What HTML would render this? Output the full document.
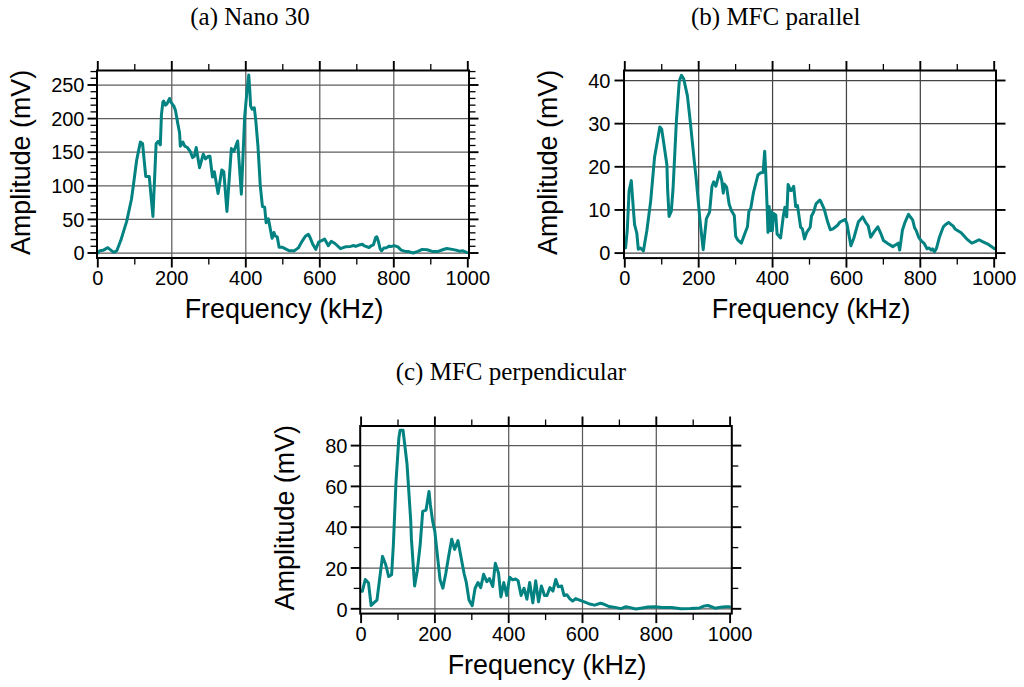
<!DOCTYPE html>
<html><head><meta charset="utf-8"><title>Frequency spectra</title>
<style>
html,body{margin:0;padding:0;background:#fff;}
body{width:1024px;height:687px;overflow:hidden;}
svg{display:block;}
.gr{stroke-width:1.25;fill:none;}
.cv{stroke:#038282;stroke-width:3;fill:none;stroke-linejoin:round;stroke-linecap:round;}
.fr{stroke:#000;stroke-width:2;fill:none;}
.tk{stroke:#000;stroke-width:1.9;}
.tm{stroke:#000;stroke-width:1.3;}
.tl{font-family:"Liberation Sans",sans-serif;font-size:20px;fill:#000;}
.al{font-family:"Liberation Sans",sans-serif;font-size:26.9px;fill:#000;}
.tt{font-family:"Liberation Serif",serif;font-size:25px;fill:#000;}
</style></head>
<body>
<svg width="1024" height="687" viewBox="0 0 1024 687">
<rect width="1024" height="687" fill="#fff"/>
<line x1="171.8" y1="70.5" x2="171.8" y2="258" class="gr" stroke="#5e5e5e"/>
<line x1="245.8" y1="70.5" x2="245.8" y2="258" class="gr" stroke="#5e5e5e"/>
<line x1="319.8" y1="70.5" x2="319.8" y2="258" class="gr" stroke="#5e5e5e"/>
<line x1="393.8" y1="70.5" x2="393.8" y2="258" class="gr" stroke="#5e5e5e"/>
<line x1="97" y1="253" x2="469" y2="253" class="gr" stroke="#5e5e5e"/>
<line x1="97" y1="219.4" x2="469" y2="219.4" class="gr" stroke="#5e5e5e"/>
<line x1="97" y1="185.8" x2="469" y2="185.8" class="gr" stroke="#5e5e5e"/>
<line x1="97" y1="152.2" x2="469" y2="152.2" class="gr" stroke="#5e5e5e"/>
<line x1="97" y1="118.6" x2="469" y2="118.6" class="gr" stroke="#5e5e5e"/>
<line x1="97" y1="85" x2="469" y2="85" class="gr" stroke="#5e5e5e"/>
<polyline points="97.8,253 100.02,250.65 102.98,250.31 107.79,247.69 111.12,250.31 113.71,252.33 116.67,250.98 120.74,240.57 126.66,221.42 131.47,199.24 133.32,185.8 136.65,160.26 140.35,142.12 142.57,143.46 145.72,176.39 149.23,176.39 152.93,216.38 156.11,143.8 158.11,141.45 160.33,144.81 161.44,114.57 162.92,101.8 163.66,101.13 165.51,105.16 166.99,103.82 169.58,98.44 171.06,102.47 174.02,106.5 175.5,110.54 177.72,123.3 179.57,132.71 180.31,146.15 182.9,142.12 184.75,146.15 187.34,147.5 190.3,151.53 192.52,157.58 194.37,156.23 196.22,147.5 199.55,167.66 203.25,154.22 205.47,158.92 208.43,156.23 209.91,156.23 212.5,177.06 214.35,171.69 218.05,193.53 221.75,170.01 223.78,171.69 226.93,211.47 231.37,148.57 233.77,151.53 237.66,140.98 241.36,194.2 244.69,116.58 246.91,91.72 248.76,74.92 249.87,91.72 250.61,105.83 252.09,109.19 254.31,107.85 255.79,120.62 258.01,146.82 260.23,185.13 262.45,206.63 264.67,207.3 266.15,222.76 268.37,218.73 272.07,238.22 273.92,232.5 275.4,236.2 277.25,236.87 279.1,247.22 282.06,247.22 285.02,248.63 289.46,250.78 292.42,250.78 293.9,250.98 298.34,247.89 302.04,241.31 305.37,236.2 308.33,234.39 309.81,236.87 312.77,244.26 315.73,249.37 318.69,241.98 321.65,240.57 324.61,239.09 328.31,245.68 331.27,241.31 334.97,243.52 340.52,248.7 345.33,246.82 350.51,246.41 353.84,245.54 355.69,246.41 359.02,245.07 362.35,244.2 363.83,245.61 369.01,247.49 371.6,245.54 373.45,244.8 375.67,237.54 376.78,236.74 378.26,240.9 380.11,248.77 381.59,250.78 383.81,248.09 386.4,247.76 389.36,246.08 390.84,246.62 394.17,245.68 397.87,246.82 401.2,250.11 404.53,251.19 407.86,251.39 413.04,253 417.85,251.39 422.29,249.37 427.1,249.77 432.28,251.39 438.2,251.39 442.64,249.77 446.71,248.5 452.26,249.37 455.96,250.11 459.29,251.19 462.99,250.78 467.06,252.53" class="cv"/>
<rect x="97" y="70.5" width="372" height="187.5" class="fr"/>
<line x1="97.8" y1="70.5" x2="97.8" y2="61" class="tk"/>
<line x1="97.8" y1="258" x2="97.8" y2="267.5" class="tk"/>
<line x1="134.8" y1="70.5" x2="134.8" y2="64" class="tm"/>
<line x1="134.8" y1="258" x2="134.8" y2="264.5" class="tm"/>
<line x1="171.8" y1="70.5" x2="171.8" y2="61" class="tk"/>
<line x1="171.8" y1="258" x2="171.8" y2="267.5" class="tk"/>
<line x1="208.8" y1="70.5" x2="208.8" y2="64" class="tm"/>
<line x1="208.8" y1="258" x2="208.8" y2="264.5" class="tm"/>
<line x1="245.8" y1="70.5" x2="245.8" y2="61" class="tk"/>
<line x1="245.8" y1="258" x2="245.8" y2="267.5" class="tk"/>
<line x1="282.8" y1="70.5" x2="282.8" y2="64" class="tm"/>
<line x1="282.8" y1="258" x2="282.8" y2="264.5" class="tm"/>
<line x1="319.8" y1="70.5" x2="319.8" y2="61" class="tk"/>
<line x1="319.8" y1="258" x2="319.8" y2="267.5" class="tk"/>
<line x1="356.8" y1="70.5" x2="356.8" y2="64" class="tm"/>
<line x1="356.8" y1="258" x2="356.8" y2="264.5" class="tm"/>
<line x1="393.8" y1="70.5" x2="393.8" y2="61" class="tk"/>
<line x1="393.8" y1="258" x2="393.8" y2="267.5" class="tk"/>
<line x1="430.8" y1="70.5" x2="430.8" y2="64" class="tm"/>
<line x1="430.8" y1="258" x2="430.8" y2="264.5" class="tm"/>
<line x1="467.8" y1="70.5" x2="467.8" y2="61" class="tk"/>
<line x1="467.8" y1="258" x2="467.8" y2="267.5" class="tk"/>
<line x1="97" y1="253" x2="87.5" y2="253" class="tk"/>
<line x1="469" y1="253" x2="478.5" y2="253" class="tk"/>
<line x1="97" y1="219.4" x2="87.5" y2="219.4" class="tk"/>
<line x1="469" y1="219.4" x2="478.5" y2="219.4" class="tk"/>
<line x1="97" y1="185.8" x2="87.5" y2="185.8" class="tk"/>
<line x1="469" y1="185.8" x2="478.5" y2="185.8" class="tk"/>
<line x1="97" y1="152.2" x2="87.5" y2="152.2" class="tk"/>
<line x1="469" y1="152.2" x2="478.5" y2="152.2" class="tk"/>
<line x1="97" y1="118.6" x2="87.5" y2="118.6" class="tk"/>
<line x1="469" y1="118.6" x2="478.5" y2="118.6" class="tk"/>
<line x1="97" y1="85" x2="87.5" y2="85" class="tk"/>
<line x1="469" y1="85" x2="478.5" y2="85" class="tk"/>
<line x1="97" y1="246.28" x2="90.5" y2="246.28" class="tm"/>
<line x1="469" y1="246.28" x2="475.5" y2="246.28" class="tm"/>
<line x1="97" y1="239.56" x2="90.5" y2="239.56" class="tm"/>
<line x1="469" y1="239.56" x2="475.5" y2="239.56" class="tm"/>
<line x1="97" y1="232.84" x2="90.5" y2="232.84" class="tm"/>
<line x1="469" y1="232.84" x2="475.5" y2="232.84" class="tm"/>
<line x1="97" y1="226.12" x2="90.5" y2="226.12" class="tm"/>
<line x1="469" y1="226.12" x2="475.5" y2="226.12" class="tm"/>
<line x1="97" y1="212.68" x2="90.5" y2="212.68" class="tm"/>
<line x1="469" y1="212.68" x2="475.5" y2="212.68" class="tm"/>
<line x1="97" y1="205.96" x2="90.5" y2="205.96" class="tm"/>
<line x1="469" y1="205.96" x2="475.5" y2="205.96" class="tm"/>
<line x1="97" y1="199.24" x2="90.5" y2="199.24" class="tm"/>
<line x1="469" y1="199.24" x2="475.5" y2="199.24" class="tm"/>
<line x1="97" y1="192.52" x2="90.5" y2="192.52" class="tm"/>
<line x1="469" y1="192.52" x2="475.5" y2="192.52" class="tm"/>
<line x1="97" y1="179.08" x2="90.5" y2="179.08" class="tm"/>
<line x1="469" y1="179.08" x2="475.5" y2="179.08" class="tm"/>
<line x1="97" y1="172.36" x2="90.5" y2="172.36" class="tm"/>
<line x1="469" y1="172.36" x2="475.5" y2="172.36" class="tm"/>
<line x1="97" y1="165.64" x2="90.5" y2="165.64" class="tm"/>
<line x1="469" y1="165.64" x2="475.5" y2="165.64" class="tm"/>
<line x1="97" y1="158.92" x2="90.5" y2="158.92" class="tm"/>
<line x1="469" y1="158.92" x2="475.5" y2="158.92" class="tm"/>
<line x1="97" y1="145.48" x2="90.5" y2="145.48" class="tm"/>
<line x1="469" y1="145.48" x2="475.5" y2="145.48" class="tm"/>
<line x1="97" y1="138.76" x2="90.5" y2="138.76" class="tm"/>
<line x1="469" y1="138.76" x2="475.5" y2="138.76" class="tm"/>
<line x1="97" y1="132.04" x2="90.5" y2="132.04" class="tm"/>
<line x1="469" y1="132.04" x2="475.5" y2="132.04" class="tm"/>
<line x1="97" y1="125.32" x2="90.5" y2="125.32" class="tm"/>
<line x1="469" y1="125.32" x2="475.5" y2="125.32" class="tm"/>
<line x1="97" y1="111.88" x2="90.5" y2="111.88" class="tm"/>
<line x1="469" y1="111.88" x2="475.5" y2="111.88" class="tm"/>
<line x1="97" y1="105.16" x2="90.5" y2="105.16" class="tm"/>
<line x1="469" y1="105.16" x2="475.5" y2="105.16" class="tm"/>
<line x1="97" y1="98.44" x2="90.5" y2="98.44" class="tm"/>
<line x1="469" y1="98.44" x2="475.5" y2="98.44" class="tm"/>
<line x1="97" y1="91.72" x2="90.5" y2="91.72" class="tm"/>
<line x1="469" y1="91.72" x2="475.5" y2="91.72" class="tm"/>
<line x1="97" y1="78.28" x2="90.5" y2="78.28" class="tm"/>
<line x1="469" y1="78.28" x2="475.5" y2="78.28" class="tm"/>
<line x1="97" y1="71.56" x2="90.5" y2="71.56" class="tm"/>
<line x1="469" y1="71.56" x2="475.5" y2="71.56" class="tm"/>
<text x="97.8" y="285.3" class="tl" text-anchor="middle">0</text>
<text x="171.8" y="285.3" class="tl" text-anchor="middle">200</text>
<text x="245.8" y="285.3" class="tl" text-anchor="middle">400</text>
<text x="319.8" y="285.3" class="tl" text-anchor="middle">600</text>
<text x="393.8" y="285.3" class="tl" text-anchor="middle">800</text>
<text x="467.8" y="285.3" class="tl" text-anchor="middle">1000</text>
<text x="84.5" y="260.2" class="tl" text-anchor="end">0</text>
<text x="84.5" y="226.6" class="tl" text-anchor="end">50</text>
<text x="84.5" y="193" class="tl" text-anchor="end">100</text>
<text x="84.5" y="159.4" class="tl" text-anchor="end">150</text>
<text x="84.5" y="125.8" class="tl" text-anchor="end">200</text>
<text x="84.5" y="92.2" class="tl" text-anchor="end">250</text>
<text x="284" y="317.6" class="al" text-anchor="middle">Frequency (kHz)</text>
<text transform="translate(30.1,162.4) rotate(-90)" class="al" text-anchor="middle">Amplitude (mV)</text>
<text x="250" y="25.3" class="tt" text-anchor="middle">(a) Nano 30</text>
<line x1="698.68" y1="70.5" x2="698.68" y2="258.1" class="gr" stroke="#444"/>
<line x1="772.56" y1="70.5" x2="772.56" y2="258.1" class="gr" stroke="#444"/>
<line x1="846.44" y1="70.5" x2="846.44" y2="258.1" class="gr" stroke="#444"/>
<line x1="920.32" y1="70.5" x2="920.32" y2="258.1" class="gr" stroke="#444"/>
<line x1="624" y1="253.1" x2="996" y2="253.1" class="gr" stroke="#444"/>
<line x1="624" y1="209.95" x2="996" y2="209.95" class="gr" stroke="#444"/>
<line x1="624" y1="166.8" x2="996" y2="166.8" class="gr" stroke="#444"/>
<line x1="624" y1="123.65" x2="996" y2="123.65" class="gr" stroke="#444"/>
<line x1="624" y1="80.5" x2="996" y2="80.5" class="gr" stroke="#444"/>
<polyline points="625.58,247.92 627.27,230.23 629.09,190.96 631.3,180.61 633.19,206.93 634.59,224.62 636.81,233.25 638.28,249.22 640.5,247.92 643.42,250.94 646.89,230.23 650.66,201.32 654.54,157.31 657.38,141.34 659.82,127.1 661.7,129.26 663.88,143.93 666.91,165.07 667.61,189.24 669.09,216.42 671.31,211.24 673.01,189.24 674.48,159.9 676.41,120.63 679.29,80.93 681.5,75.32 683.68,78.77 687.38,95.6 690.29,121.92 694.69,165.07 696.21,178.88 699.83,218.58 703.19,249.65 706.4,218.58 707.91,215.56 709.58,212.11 711.98,186.22 713.71,181.9 715.89,186.22 719.59,171.98 721.8,180.61 723.28,193.12 724.32,184.06 726.61,187.08 729.12,203.91 731.3,210.38 734.29,215.56 735.69,236.27 737.91,240.16 741.31,243.18 744.49,234.55 747.44,226.78 748.92,211.24 750.8,208.22 753.5,192.26 757.89,175 760.52,172.84 763.1,172.41 764.69,151.27 765.69,171.55 767.09,206.5 767.98,232.39 769.2,206.5 770.38,230.66 771.49,211.68 772.38,230.66 773.59,213.4 775.81,215.13 777.07,234.11 780.58,238 783.2,216.85 784.9,207.36 786.71,216.85 788.11,184.49 790.51,190.53 791.55,190.53 793.69,186.22 795.68,206.5 797.49,205.63 800.63,227.21 802.41,228.94 804.51,238.86 806.73,232.39 810.2,227.21 811.49,215.99 813.75,211.68 816,203.91 819.81,200.03 820.8,201.32 824.2,209.09 827.71,222.03 830.3,229.8 832.99,228.94 837.32,225.48 839.98,222.03 845.22,219.44 846.92,223.76 850.91,245.76 853.86,238 858.3,222.03 862.69,216.85 865.46,222.03 868.2,225.92 870.67,237.13 873.7,232.39 877.8,226.78 880.54,232.82 883.53,240.59 887.33,243.18 892.8,246.63 896.2,244.47 898.3,243.18 899.71,250.08 902.4,230.23 905.1,222.03 908.5,214.26 910.6,217.29 912.64,219.87 914.71,228.07 916.07,230.23 918.81,237.57 921.5,241.02 924.27,243.61 927.01,248.78 929.04,247.92 931.11,250.08 932.51,248.78 934.5,251.81 936.61,247.92 939.31,237.57 942,230.23 943.41,226.78 946.1,224.19 948.58,222.46 950.68,224.19 953.01,225.92 955.04,228.94 961.18,232.82 966.61,238.86 971.78,243.18 974.81,241.88 978.98,239.72 983.01,241.88 988.47,244.47 994.57,248.78" class="cv"/>
<rect x="624" y="70.5" width="372" height="187.6" class="fr"/>
<line x1="624.8" y1="70.5" x2="624.8" y2="61" class="tk"/>
<line x1="624.8" y1="258.1" x2="624.8" y2="267.6" class="tk"/>
<line x1="661.74" y1="70.5" x2="661.74" y2="64" class="tm"/>
<line x1="661.74" y1="258.1" x2="661.74" y2="264.6" class="tm"/>
<line x1="698.68" y1="70.5" x2="698.68" y2="61" class="tk"/>
<line x1="698.68" y1="258.1" x2="698.68" y2="267.6" class="tk"/>
<line x1="735.62" y1="70.5" x2="735.62" y2="64" class="tm"/>
<line x1="735.62" y1="258.1" x2="735.62" y2="264.6" class="tm"/>
<line x1="772.56" y1="70.5" x2="772.56" y2="61" class="tk"/>
<line x1="772.56" y1="258.1" x2="772.56" y2="267.6" class="tk"/>
<line x1="809.5" y1="70.5" x2="809.5" y2="64" class="tm"/>
<line x1="809.5" y1="258.1" x2="809.5" y2="264.6" class="tm"/>
<line x1="846.44" y1="70.5" x2="846.44" y2="61" class="tk"/>
<line x1="846.44" y1="258.1" x2="846.44" y2="267.6" class="tk"/>
<line x1="883.38" y1="70.5" x2="883.38" y2="64" class="tm"/>
<line x1="883.38" y1="258.1" x2="883.38" y2="264.6" class="tm"/>
<line x1="920.32" y1="70.5" x2="920.32" y2="61" class="tk"/>
<line x1="920.32" y1="258.1" x2="920.32" y2="267.6" class="tk"/>
<line x1="957.26" y1="70.5" x2="957.26" y2="64" class="tm"/>
<line x1="957.26" y1="258.1" x2="957.26" y2="264.6" class="tm"/>
<line x1="994.2" y1="70.5" x2="994.2" y2="61" class="tk"/>
<line x1="994.2" y1="258.1" x2="994.2" y2="267.6" class="tk"/>
<line x1="624" y1="253.1" x2="614.5" y2="253.1" class="tk"/>
<line x1="996" y1="253.1" x2="1005.5" y2="253.1" class="tk"/>
<line x1="624" y1="209.95" x2="614.5" y2="209.95" class="tk"/>
<line x1="996" y1="209.95" x2="1005.5" y2="209.95" class="tk"/>
<line x1="624" y1="166.8" x2="614.5" y2="166.8" class="tk"/>
<line x1="996" y1="166.8" x2="1005.5" y2="166.8" class="tk"/>
<line x1="624" y1="123.65" x2="614.5" y2="123.65" class="tk"/>
<line x1="996" y1="123.65" x2="1005.5" y2="123.65" class="tk"/>
<line x1="624" y1="80.5" x2="614.5" y2="80.5" class="tk"/>
<line x1="996" y1="80.5" x2="1005.5" y2="80.5" class="tk"/>
<text x="624.8" y="285.4" class="tl" text-anchor="middle">0</text>
<text x="698.68" y="285.4" class="tl" text-anchor="middle">200</text>
<text x="772.56" y="285.4" class="tl" text-anchor="middle">400</text>
<text x="846.44" y="285.4" class="tl" text-anchor="middle">600</text>
<text x="920.32" y="285.4" class="tl" text-anchor="middle">800</text>
<text x="994.2" y="285.4" class="tl" text-anchor="middle">1000</text>
<text x="610.4" y="260.3" class="tl" text-anchor="end">0</text>
<text x="610.4" y="217.15" class="tl" text-anchor="end">10</text>
<text x="610.4" y="174" class="tl" text-anchor="end">20</text>
<text x="610.4" y="130.85" class="tl" text-anchor="end">30</text>
<text x="610.4" y="87.7" class="tl" text-anchor="end">40</text>
<text x="811" y="317.6" class="al" text-anchor="middle">Frequency (kHz)</text>
<text transform="translate(557,162.4) rotate(-90)" class="al" text-anchor="middle">Amplitude (mV)</text>
<text x="775.7" y="25.4" class="tt" text-anchor="middle">(b) MFC parallel</text>
<line x1="434.9" y1="426" x2="434.9" y2="613.6" class="gr" stroke="#5a5a5a"/>
<line x1="508.7" y1="426" x2="508.7" y2="613.6" class="gr" stroke="#5a5a5a"/>
<line x1="582.5" y1="426" x2="582.5" y2="613.6" class="gr" stroke="#5a5a5a"/>
<line x1="656.3" y1="426" x2="656.3" y2="613.6" class="gr" stroke="#5a5a5a"/>
<line x1="360.2" y1="608.8" x2="731.8" y2="608.8" class="gr" stroke="#5a5a5a"/>
<line x1="360.2" y1="568" x2="731.8" y2="568" class="gr" stroke="#5a5a5a"/>
<line x1="360.2" y1="527.2" x2="731.8" y2="527.2" class="gr" stroke="#5a5a5a"/>
<line x1="360.2" y1="486.4" x2="731.8" y2="486.4" class="gr" stroke="#5a5a5a"/>
<line x1="360.2" y1="445.6" x2="731.8" y2="445.6" class="gr" stroke="#5a5a5a"/>
<polyline points="361.1,591.26 362.32,591.26 365.31,579.42 368.52,583.1 371.14,605.54 374.02,602.68 376.97,600.03 379.92,576.57 382.5,556.37 385.75,564.74 388.7,576.57 391.62,574.73 393.39,544.34 396.01,481.5 398.89,437.64 400.1,430.3 403.02,430.3 404.79,444.99 407,463.96 410.69,520.06 411.39,538.42 414.61,585.95 417.3,570.65 420.21,544.34 422.69,511.49 426.04,510.06 429,491.5 430.4,504.96 432.61,520.88 434.79,531.08 437,551.68 439.99,579.42 442.91,588.2 445.79,573.51 448.7,555.96 451.69,539.24 454.6,549.44 458,540.66 460.51,554.54 464.09,573.51 466.3,582.48 469,600.03 472.21,605.74 475.08,588.2 478,582.48 480.69,587.58 483.61,574.32 486.82,581.67 489.51,578.61 492.72,586.56 495.31,563.31 498.52,572.9 500.91,596.97 503.79,582.48 506.71,595.54 509.62,577.18 512.61,579.83 515.49,579.02 518.11,580.85 521.1,595.54 524.01,588.2 526.89,599.21 529.7,582.48 532.8,602.88 535.71,580.85 538.52,601.86 541.39,585.95 544.49,595.54 547,595.54 549.92,587.58 552.91,591.05 555.78,579.42 558.29,586.77 561.61,585.95 564.09,595.54 566.82,594.72 569.7,598.6 572.61,601.05 575.6,598.6 582.94,601.46 588.7,603.7 594.6,605.13 600.51,603.29 604.12,604.31 609.29,606.56 615.12,607.37 620.99,608.6 625.89,606.76 629.36,607.37 635.78,609 642.31,607.98 648.11,606.96 655.19,606.76 662.2,607.58 671.61,607.58 675.49,607.98 680.91,608.8 690.32,608.6 699.69,607.98 704.42,605.94 707.92,605.54 711.39,606.76 714.9,608.19 720.8,607.17 725.49,606.76 729.58,606.76" class="cv"/>
<rect x="360.2" y="426" width="371.6" height="187.6" class="fr"/>
<line x1="361.1" y1="426" x2="361.1" y2="416.5" class="tk"/>
<line x1="361.1" y1="613.6" x2="361.1" y2="623.1" class="tk"/>
<line x1="398" y1="426" x2="398" y2="419.5" class="tm"/>
<line x1="398" y1="613.6" x2="398" y2="620.1" class="tm"/>
<line x1="434.9" y1="426" x2="434.9" y2="416.5" class="tk"/>
<line x1="434.9" y1="613.6" x2="434.9" y2="623.1" class="tk"/>
<line x1="471.8" y1="426" x2="471.8" y2="419.5" class="tm"/>
<line x1="471.8" y1="613.6" x2="471.8" y2="620.1" class="tm"/>
<line x1="508.7" y1="426" x2="508.7" y2="416.5" class="tk"/>
<line x1="508.7" y1="613.6" x2="508.7" y2="623.1" class="tk"/>
<line x1="545.6" y1="426" x2="545.6" y2="419.5" class="tm"/>
<line x1="545.6" y1="613.6" x2="545.6" y2="620.1" class="tm"/>
<line x1="582.5" y1="426" x2="582.5" y2="416.5" class="tk"/>
<line x1="582.5" y1="613.6" x2="582.5" y2="623.1" class="tk"/>
<line x1="619.4" y1="426" x2="619.4" y2="419.5" class="tm"/>
<line x1="619.4" y1="613.6" x2="619.4" y2="620.1" class="tm"/>
<line x1="656.3" y1="426" x2="656.3" y2="416.5" class="tk"/>
<line x1="656.3" y1="613.6" x2="656.3" y2="623.1" class="tk"/>
<line x1="693.2" y1="426" x2="693.2" y2="419.5" class="tm"/>
<line x1="693.2" y1="613.6" x2="693.2" y2="620.1" class="tm"/>
<line x1="730.1" y1="426" x2="730.1" y2="416.5" class="tk"/>
<line x1="730.1" y1="613.6" x2="730.1" y2="623.1" class="tk"/>
<line x1="360.2" y1="608.8" x2="350.7" y2="608.8" class="tk"/>
<line x1="731.8" y1="608.8" x2="741.3" y2="608.8" class="tk"/>
<line x1="360.2" y1="568" x2="350.7" y2="568" class="tk"/>
<line x1="731.8" y1="568" x2="741.3" y2="568" class="tk"/>
<line x1="360.2" y1="527.2" x2="350.7" y2="527.2" class="tk"/>
<line x1="731.8" y1="527.2" x2="741.3" y2="527.2" class="tk"/>
<line x1="360.2" y1="486.4" x2="350.7" y2="486.4" class="tk"/>
<line x1="731.8" y1="486.4" x2="741.3" y2="486.4" class="tk"/>
<line x1="360.2" y1="445.6" x2="350.7" y2="445.6" class="tk"/>
<line x1="731.8" y1="445.6" x2="741.3" y2="445.6" class="tk"/>
<line x1="360.2" y1="588.4" x2="353.7" y2="588.4" class="tm"/>
<line x1="731.8" y1="588.4" x2="738.3" y2="588.4" class="tm"/>
<line x1="360.2" y1="547.6" x2="353.7" y2="547.6" class="tm"/>
<line x1="731.8" y1="547.6" x2="738.3" y2="547.6" class="tm"/>
<line x1="360.2" y1="506.8" x2="353.7" y2="506.8" class="tm"/>
<line x1="731.8" y1="506.8" x2="738.3" y2="506.8" class="tm"/>
<line x1="360.2" y1="466" x2="353.7" y2="466" class="tm"/>
<line x1="731.8" y1="466" x2="738.3" y2="466" class="tm"/>
<text x="361.1" y="640.9" class="tl" text-anchor="middle">0</text>
<text x="434.9" y="640.9" class="tl" text-anchor="middle">200</text>
<text x="508.7" y="640.9" class="tl" text-anchor="middle">400</text>
<text x="582.5" y="640.9" class="tl" text-anchor="middle">600</text>
<text x="656.3" y="640.9" class="tl" text-anchor="middle">800</text>
<text x="730.1" y="640.9" class="tl" text-anchor="middle">1000</text>
<text x="347.5" y="616.5" class="tl" text-anchor="end">0</text>
<text x="347.5" y="575.7" class="tl" text-anchor="end">20</text>
<text x="347.5" y="534.9" class="tl" text-anchor="end">40</text>
<text x="347.5" y="494.1" class="tl" text-anchor="end">60</text>
<text x="347.5" y="453.3" class="tl" text-anchor="end">80</text>
<text x="547" y="673.5" class="al" text-anchor="middle">Frequency (kHz)</text>
<text transform="translate(293.5,517.6) rotate(-90)" class="al" text-anchor="middle">Amplitude (mV)</text>
<text x="510.9" y="380.2" class="tt" text-anchor="middle">(c) MFC perpendicular</text>
</svg>
</body></html>
